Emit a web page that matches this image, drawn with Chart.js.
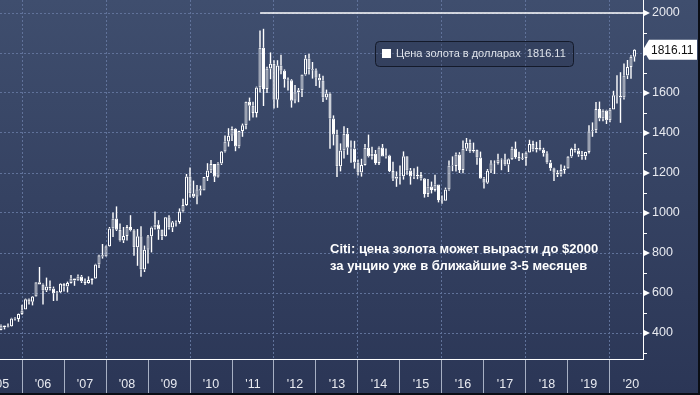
<!DOCTYPE html>
<html>
<head>
<meta charset="utf-8">
<script src="https://cdn.jsdelivr.net/npm/chart.js@4.4.0/dist/chart.umd.min.js"></script>
<style>
html, body { margin: 0; padding: 0; }
body { width: 700px; height: 395px; overflow: hidden; background: linear-gradient(#3f4e6e, #2b3656); }
#wrap { position: relative; width: 700px; height: 395px; }
</style>
</head>
<body>
<div id="wrap"><canvas id="goldChart" width="700" height="395"></canvas></div>
<script>
// monthly candles, June 2005 .. July 2020
var firstYear = 2005;
var firstMonth = 6;

var opens = [
    415, 437, 429, 434, 473, 470, 495,
    517, 569, 556, 582, 654, 643, 613, 633, 623, 599, 604, 646,
    632, 650, 672, 662, 683, 659, 650, 665, 673, 743, 789, 783,
    834, 923, 972, 916, 863, 885, 930, 914, 829, 884, 717, 816,
    884, 928, 942, 917, 884, 979, 927, 954, 955, 1007, 1040, 1182,
    1097, 1081, 1119, 1113, 1180, 1213, 1245, 1181, 1247, 1307, 1358, 1386,
    1421, 1333, 1410, 1439, 1556, 1536, 1500, 1628, 1826, 1620, 1722, 1746,
    1566, 1737, 1711, 1669, 1664, 1561, 1604, 1614, 1692, 1772, 1719, 1714,
    1676, 1663, 1578, 1597, 1472, 1393, 1234, 1313, 1396, 1326, 1323, 1253,
    1202, 1240, 1326, 1284, 1296, 1250, 1327, 1282, 1287, 1210, 1171, 1183,
    1184, 1284, 1213, 1183, 1184, 1190, 1172, 1095, 1132, 1115, 1142, 1065,
    1061, 1118, 1238, 1235, 1293, 1215, 1321, 1351, 1309, 1316, 1277, 1173,
    1151, 1211, 1249, 1249, 1268, 1269, 1242, 1269, 1322, 1280, 1271, 1275,
    1303, 1345, 1318, 1325, 1316, 1299, 1253, 1224, 1201, 1192, 1215, 1222,
    1282, 1321, 1313, 1292, 1284, 1305, 1409, 1414, 1520, 1472, 1513, 1464,
    1517, 1589, 1585, 1577, 1687, 1730, 1781
];
var highs = [
    443, 438, 448, 476, 479, 497, 541,
    572, 573, 585, 654, 730, 647, 677, 663, 632, 610, 649, 650,
    657, 690, 673, 693, 690, 673, 683, 675, 746, 791, 845, 837,
    930, 1003, 1033, 948, 930, 940, 989, 919, 920, 934, 837, 890,
    932, 1007, 964, 918, 980, 989, 960, 963, 1023, 1071, 1195, 1227,
    1162, 1140, 1137, 1180, 1249, 1265, 1245, 1254, 1310, 1388, 1424, 1432,
    1424, 1411, 1447, 1557, 1577, 1556, 1632, 1913, 1921, 1731, 1803, 1764,
    1764, 1791, 1718, 1677, 1669, 1640, 1625, 1693, 1790, 1796, 1755, 1723,
    1696, 1686, 1617, 1603, 1488, 1416, 1348, 1434, 1425, 1362, 1361, 1268,
    1271, 1345, 1392, 1331, 1315, 1332, 1345, 1323, 1291, 1256, 1208, 1238,
    1308, 1284, 1225, 1224, 1232, 1205, 1175, 1170, 1157, 1191, 1142, 1088,
    1127, 1263, 1283, 1303, 1304, 1362, 1375, 1367, 1352, 1317, 1307, 1180,
    1220, 1264, 1263, 1296, 1273, 1296, 1272, 1331, 1357, 1306, 1299, 1307,
    1366, 1361, 1356, 1365, 1326, 1309, 1265, 1226, 1214, 1243, 1237, 1285,
    1326, 1346, 1324, 1310, 1306, 1439, 1453, 1555, 1557, 1518, 1516, 1525,
    1611, 1689, 1704, 1747, 1765, 1789, 1819
];
var lows = [
    414, 418, 428, 432, 462, 456, 491,
    517, 542, 538, 581, 643, 543, 605, 612, 560, 561, 600, 608,
    603, 648, 636, 660, 650, 640, 647, 642, 671, 725, 772, 781,
    832, 880, 910, 857, 850, 863, 908, 786, 736, 681, 705, 748,
    803, 917, 866, 865, 882, 917, 905, 932, 946, 1002, 1036, 1077,
    1075, 1044, 1088, 1113, 1160, 1200, 1155, 1177, 1240, 1302, 1332, 1360,
    1309, 1324, 1381, 1419, 1462, 1478, 1478, 1603, 1535, 1600, 1669, 1523,
    1526, 1694, 1627, 1613, 1527, 1549, 1554, 1580, 1687, 1693, 1672, 1635,
    1626, 1555, 1566, 1321, 1338, 1180, 1208, 1272, 1291, 1251, 1222, 1187,
    1182, 1238, 1278, 1268, 1241, 1240, 1282, 1273, 1205, 1160, 1131, 1142,
    1167, 1191, 1142, 1170, 1169, 1162, 1077, 1080, 1098, 1107, 1053, 1046,
    1061, 1111, 1209, 1208, 1200, 1199, 1310, 1301, 1302, 1241, 1171, 1122,
    1146, 1200, 1195, 1243, 1214, 1236, 1205, 1265, 1271, 1260, 1265, 1236,
    1302, 1307, 1303, 1312, 1282, 1246, 1211, 1160, 1180, 1183, 1196, 1221,
    1276, 1302, 1281, 1266, 1266, 1298, 1381, 1400, 1459, 1459, 1445, 1454,
    1517, 1547, 1451, 1568, 1670, 1671, 1757
];
var closes = [
    437, 429, 434, 473, 470, 495, 513,
    569, 556, 582, 654, 643, 613, 633, 623, 599, 604, 646, 632,
    650, 672, 662, 683, 659, 650, 665, 673, 743, 789, 783, 834,
    923, 972, 916, 863, 885, 930, 914, 829, 884, 717, 816, 884,
    928, 942, 917, 884, 979, 927, 954, 955, 1007, 1040, 1182, 1097,
    1081, 1119, 1113, 1180, 1213, 1245, 1181, 1247, 1307, 1358, 1386, 1421,
    1333, 1410, 1439, 1556, 1536, 1500, 1628, 1826, 1620, 1722, 1746, 1566,
    1737, 1711, 1669, 1664, 1561, 1604, 1614, 1692, 1772, 1719, 1714, 1676,
    1663, 1578, 1597, 1472, 1393, 1234, 1313, 1396, 1326, 1323, 1253, 1202,
    1240, 1326, 1284, 1296, 1250, 1327, 1282, 1287, 1210, 1171, 1183, 1184,
    1284, 1213, 1183, 1184, 1190, 1172, 1095, 1132, 1115, 1142, 1065, 1061,
    1118, 1238, 1235, 1293, 1215, 1321, 1351, 1309, 1316, 1277, 1173, 1151,
    1211, 1249, 1249, 1268, 1269, 1242, 1269, 1322, 1280, 1271, 1275, 1303,
    1345, 1318, 1325, 1316, 1299, 1253, 1224, 1201, 1192, 1215, 1222, 1282,
    1321, 1313, 1292, 1284, 1305, 1409, 1414, 1520, 1472, 1513, 1464, 1517,
    1589, 1585, 1577, 1687, 1730, 1781, 1816
];

var yearTicks = [2005, 2006, 2007, 2008, 2009, 2010, 2011, 2012, 2013, 2014, 2015, 2016, 2017, 2018, 2019, 2020];
var yearLabels = ["'05", "'06", "'07", "'08", "'09", "'10", "'11", "'12", "'13", "'14", "'15", "'16", "'17", "'18", "'19", "'20"];
var priceTicks = [300, 400, 500, 600, 700, 800, 900, 1000, 1100, 1200, 1300, 1400, 1500, 1600, 1700, 1800, 1900, 2000];

var seriesName = 'Цена золота в долларах';
var lastPrice = '1816.11';
var targetPrice = 2000;
var targetFrom = 2011.67;
var noteLines = ['Citi: цена золота может вырасти до $2000', 'за унцию уже в ближайшие 3-5 месяцев'];

var xMin = 2005.476, xMax = 2020.786;
var yMin = 270, yMax = 2065;

var gridColor = '#60729a';
var labelColor = '#e8eaf0';
var fontFamily = '"Liberation Sans", Arial, sans-serif';
var clear = 'rgba(0,0,0,0)';

function monthX(i) {
    return firstYear + (firstMonth + i) / 12;
}

// chart.js pads the area for half a label at each end, the original has none
function noPadding(s) {
    s.paddingTop = 0;
    s.paddingBottom = 0;
    s.paddingLeft = 0;
    s.paddingRight = 0;
}

var upperWicks = [], lowerWicks = [], bodies = [];
for (var i = 0; i < closes.length; i++) {
    let bodyTop = Math.max(opens[i], closes[i]);
    let bodyBot = Math.min(opens[i], closes[i]);
    upperWicks.push({ x: monthX(i), y: [bodyTop, highs[i]] });
    lowerWicks.push({ x: monthX(i), y: [lows[i], bodyBot] });
    bodies.push({ x: monthX(i), y: [opens[i], closes[i]] });
}

var wickStyle = {
    type: 'bar', backgroundColor: '#ffffff', borderWidth: 0, barThickness: 1.4,
    grouped: false, inflateAmount: 0, borderSkipped: false
};

var decor = {
    id: 'decor',
    afterDraw: function (chart) {
        var ctx = chart.ctx;
        var ys = chart.scales.y;
        var area = chart.chartArea;
        ctx.save();

        // arrow markers at the labelled price ticks
        ctx.fillStyle = '#ffffff';
        priceTicks.forEach(function (v) {
            if (v % 200 !== 0) return;
            var py = ys.getPixelForValue(v);
            ctx.beginPath();
            ctx.moveTo(area.right, py - 3.5);
            ctx.lineTo(area.right + 7, py);
            ctx.lineTo(area.right, py + 3.5);
            ctx.closePath();
            ctx.fill();
        });

        // legend box
        ctx.beginPath();
        ctx.roundRect(375.5, 41.5, 198, 25, 4);
        ctx.fillStyle = 'rgba(28,36,60,0.25)';
        ctx.fill();
        ctx.strokeStyle = '#141a2a';
        ctx.lineWidth = 1;
        ctx.stroke();
        ctx.fillStyle = '#ffffff';
        ctx.fillRect(382, 49, 9, 9);
        ctx.font = '11px ' + fontFamily;
        ctx.fillStyle = '#dfe3ea';
        ctx.textBaseline = 'middle';
        ctx.textAlign = 'left';
        ctx.fillText(seriesName + '  ' + lastPrice, 396, 54);

        // last price tag
        var ly = ys.getPixelForValue(parseFloat(lastPrice));
        ctx.beginPath();
        ctx.moveTo(area.right, ly);
        ctx.lineTo(area.right + 6, ly - 10);
        ctx.lineTo(697, ly - 10);
        ctx.lineTo(697, ly + 10);
        ctx.lineTo(area.right + 6, ly + 10);
        ctx.closePath();
        ctx.fillStyle = '#ffffff';
        ctx.fill();
        ctx.fillStyle = '#111111';
        ctx.font = '12px ' + fontFamily;
        ctx.fillText(lastPrice, 651, ly + 1);

        // note
        ctx.fillStyle = '#ffffff';
        ctx.font = 'bold 13px ' + fontFamily;
        ctx.fillText(noteLines[0], 330, 249);
        ctx.fillText(noteLines[1], 330, 266);

        // frame
        ctx.fillStyle = '#0b0e16';
        ctx.fillRect(0, 393, 700, 2);
        ctx.fillRect(698, 0, 2, 395);
        ctx.restore();
    }
};

var ctx = document.getElementById('goldChart').getContext('2d');
var goldChart = new Chart(ctx, {
    type: 'bar',
    data: {
        datasets: [
            Object.assign({ label: 'upper', data: upperWicks }, wickStyle),
            Object.assign({ label: 'lower', data: lowerWicks }, wickStyle),
            {
                type: 'bar',
                label: seriesName,
                data: bodies,
                barThickness: 3,
                borderWidth: 1,
                borderColor: '#ffffff',
                backgroundColor: function (c) {
                    var k = c.dataIndex;
                    return closes[k] >= opens[k] ? clear : '#ffffff';
                },
                grouped: false,
                inflateAmount: 0,
                borderSkipped: false
            },
            {
                type: 'line',
                label: 'target',
                data: [{ x: targetFrom, y: targetPrice }, { x: xMax, y: targetPrice }],
                borderColor: '#ffffff',
                borderWidth: 1.5,
                pointRadius: 0,
                fill: false
            }
        ]
    },
    options: {
        responsive: false,
        animation: false,
        events: [],
        layout: { padding: 0 },
        plugins: {
            legend: { display: false },
            tooltip: { enabled: false }
        },
        scales: {
            x: {
                type: 'linear',
                position: 'bottom',
                min: xMin,
                max: xMax,
                offset: false,
                afterBuildTicks: function (s) {
                    s.ticks = yearTicks.map(function (v) { return { value: v }; });
                },
                afterFit: function (s) {
                    s.height = 36;
                    noPadding(s);
                },
                grid: {
                    offset: false,
                    color: function (c) {
                        return c.tick && c.tick.value % 2 === 0 ? gridColor : clear;
                    },
                    tickColor: '#a7b0c4',
                    tickLength: 36
                },
                border: { display: true, color: '#ffffff', width: 1, dash: [2, 2] },
                ticks: {
                    autoSkip: false,
                    maxRotation: 0,
                    labelOffset: 21,
                    padding: -18,
                    color: labelColor,
                    font: { family: fontFamily, size: 12.5 },
                    callback: function (v) { return yearLabels[yearTicks.indexOf(v)]; }
                }
            },
            y: {
                type: 'linear',
                position: 'right',
                min: yMin,
                max: yMax,
                afterBuildTicks: function (s) {
                    s.ticks = priceTicks.map(function (v) { return { value: v }; });
                },
                afterFit: function (s) {
                    s.width = 57;
                    noPadding(s);
                },
                grid: {
                    color: function (c) {
                        return c.tick && c.tick.value % 200 === 0 ? gridColor : clear;
                    },
                    tickColor: function (c) {
                        return c.tick && c.tick.value % 200 !== 0 ? '#ffffff' : clear;
                    },
                    tickLength: 4
                },
                border: { display: true, color: '#ffffff', width: 1, dash: [2, 2] },
                ticks: {
                    autoSkip: false,
                    padding: 5,
                    color: labelColor,
                    font: { family: fontFamily, size: 12.5 },
                    callback: function (v) { return v % 200 === 0 ? String(v) : ''; }
                }
            }
        }
    },
    plugins: [decor]
});
</script>
</body>
</html>
